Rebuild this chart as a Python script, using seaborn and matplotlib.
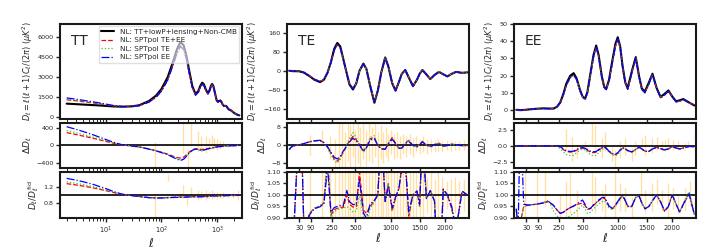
import numpy as np
import seaborn as sns
import matplotlib
matplotlib.use("Agg")
import matplotlib.pyplot as plt
from matplotlib.ticker import FixedLocator, NullLocator, FuncFormatter

# ---------------- TT ----------------
ell_tt = [2, 3, 4, 6, 8, 10, 14, 20, 30, 40, 60, 80, 100, 130, 160, 190, 220, 250, 280, 320,
          360, 410, 460, 500, 540, 580, 630, 680, 730, 780, 815, 860, 920, 980, 1030, 1080,
          1140, 1200, 1260, 1330, 1420, 1480, 1550, 1620, 1700, 1790, 1900, 2000, 2150, 2300, 2500]
dl_tt_fid = [1000, 960, 930, 890, 860, 830, 790, 770, 800, 880, 1200, 1600, 2100, 3000, 4100,
             5100, 5650, 5400, 4650, 3350, 2300, 1720, 1950, 2350, 2580, 2450, 2050, 1800, 2000,
             2380, 2480, 2300, 1750, 1260, 1150, 1190, 1240, 1120, 920, 820, 840, 790, 660, 570,
             530, 480, 390, 310, 230, 170, 115]
dd_tt_teee = [296, 250, 215, 165, 125, 95, 50, 10, -15, -35, -80, -120, -155, -200, -245, -280,
              -290, -270, -220, -150, -100, -75, -80, -90, -95, -85, -75, -70, -65, -60, -55, -50,
              -40, -35, -30, -28, -25, -22, -20, -17, -14, -12, -10, -8, -7, -6, -5, -4, -3, -2, -1]
dd_tt_te = [342, 290, 250, 190, 145, 110, 58, 12, -15, -35, -85, -125, -160, -210, -260, -305,
            -330, -310, -250, -170, -115, -85, -100, -120, -125, -110, -95, -85, -75, -70, -62, -55,
            -45, -38, -32, -30, -27, -23, -20, -17, -14, -12, -10, -8, -7, -6, -5, -4, -3, -2, -1]
dd_tt_ee = [433, 370, 320, 245, 185, 140, 70, 15, -12, -35, -85, -125, -165, -215, -270, -320,
            -345, -320, -255, -170, -110, -85, -95, -115, -118, -105, -90, -80, -70, -65, -58, -50,
            -42, -36, -30, -28, -25, -22, -20, -17, -14, -12, -10, -8, -7, -6, -5, -4, -3, -2, -1]
bar_tt_ell = [78, 240, 300, 343, 450, 520, 640, 710, 800, 870, 975, 1120, 1280, 1580, 1940]
bar_tt_lo = [-600, -166, -600, -14, -127, -127, -165, -100, -100, -60, -110, -90, -45, -45, -30]
bar_tt_hi = [80, 700, -90, 700, 327, 215, 215, 175, 250, 175, 140, 100, 100, 65, 40]
rbar_tt_ell = [78, 132, 240, 289, 343, 450, 520, 640, 710, 800, 870, 975, 1120, 1280, 1580, 1940, 2350]
rbar_tt_lo = [0.3, 1.37, 0.91, 0.74, 0.95, 0.87, 0.9, 0.88, 0.92, 0.9, 0.93, 0.9, 0.93, 0.92, 0.93, 0.92, 0.88]
rbar_tt_hi = [1.0, 1.55, 1.25, 0.95, 1.21, 1.12, 1.1, 1.12, 1.08, 1.12, 1.07, 1.08, 1.06, 1.08, 1.06, 1.08, 1.14]

# ---------------- TE ----------------
ell_te = [2, 5, 10, 20, 30, 50, 80, 110, 150, 180, 210, 240, 270, 300, 330, 360, 400, 430, 470,
          510, 550, 600, 640, 690, 750, 800, 850, 910, 960, 1020, 1075, 1130, 1180, 1240, 1300,
          1377, 1450, 1500, 1553, 1630, 1706, 1790, 1880, 1970, 2058, 2150, 2246, 2380, 2500]
dl_te_fid = [3, 2, 1, 1, 0.5, -5, -20, -35, -45, -35, -5, 40, 95, 120, 105, 55, -10, -55, -76,
             -50, 3, 33, 10, -60, -132, -80, -5, 59, 20, -50, -81, -45, -10, 6, -25, -62, -35,
             -10, 6, -13, -32, -15, -2, -12, -21, -10, -2, -6, -4]
dd_te_teee = [-1.9, -0.8, -0.2, 0.1, 0.3, 0.8, 1.6, 2.0, 2.2, 1.2, -0.8, -3.5, -6.0, -7.0, -5.5,
              -3.0, 0.0, 2.2, 4.0, 2.5, 0.3, -2.2, -0.8, 3.0, 3.5, 0.0, -1.5, -1.6, 1.0, 3.5, 1.0,
              -1.2, -1.2, 1.0, 2.3, 0.0, -0.6, 0.5, 1.8, 0.2, -0.6, 0.4, 1.0, -0.3, 0.0, 0.6, 0.3,
              -0.1, 0.0]
dd_te_te = [-2.0, -0.9, -0.2, 0.1, 0.3, 0.8, 1.6, 2.0, 2.1, 1.0, -1.2, -4.2, -6.8, -7.8, -6.2,
            -3.2, 0.5, 3.2, 5.7, 3.5, 0.0, -3.1, -1.2, 3.5, 4.3, 0.2, -1.5, -1.5, 1.0, 3.2, 0.9,
            -1.2, -1.2, 0.9, 2.1, 0.0, -0.6, 0.5, 1.6, 0.2, -0.6, 0.4, 0.9, -0.3, 0.0, 0.5, 0.3,
            -0.1, 0.0]
dd_te_ee = [-1.8, -0.8, -0.2, 0.1, 0.3, 0.8, 1.7, 2.1, 2.3, 1.3, -0.6, -3.0, -5.2, -6.0, -4.8,
            -2.6, -0.2, 1.6, 3.2, 2.0, 0.2, -2.6, -1.0, 2.4, 3.0, 0.0, -1.5, -1.7, 0.8, 2.8, 0.8,
            -1.2, -1.2, 0.8, 1.8, 0.0, -0.6, 0.4, 1.5, 0.2, -0.6, 0.4, 0.8, -0.3, 0.0, 0.5, 0.3,
            -0.1, 0.0]
bar_te_ell = [85, 165, 230, 280, 320, 350, 380, 410, 440, 470, 500, 530, 560, 600, 640, 680, 720,
              760, 800, 840, 880, 920, 960, 1000, 1050, 1100, 1150, 1200, 1260, 1320, 1380, 1440,
              1500, 1570, 1640, 1710, 1790, 1870, 1950, 2040, 2130, 2220, 2320, 2420]
bar_te_lo = [-4.2, 1.0, -6, -12, -12, -9, -12, -7, -12, -5, -11, -8, -10, -6, -9, -7, -8, -5, -9,
             -6, -8, -5, -7, -4, -6, -5, -6, -4, -5, -4, -5, -3, -4, -3, -4, -3, -3, -2.5, -3, -2,
             -2.5, -2, -2, -2]
bar_te_hi = [4.6, 6.8, 4, 3, 12, 12, 6, 12, 9, 12, 7, 12, 8, 11, 7, 10, 8, 10, 6, 9, 6, 8, 5, 7,
             5, 6, 4, 5, 4, 5, 3.5, 4, 3, 4, 3, 3, 2.5, 3, 2, 2.5, 2, 2, 2, 2.5]
rbar_te_lo = [0.8, 0.85, 0.8, 0.82, 0.8, 0.85, 0.8, 0.88, 0.8, 0.85, 0.8, 0.87, 0.8, 0.84, 0.8,
              0.86, 0.8, 0.85, 0.82, 0.8, 0.86, 0.8, 0.88, 0.82, 0.86, 0.84, 0.88, 0.85, 0.9, 0.86,
              0.9, 0.88, 0.9, 0.9, 0.92, 0.9, 0.93, 0.9, 0.92, 0.94, 0.93, 0.92, 0.94, 0.93]
rbar_te_hi = [1.2, 1.15, 1.2, 1.18, 1.2, 1.15, 1.2, 1.12, 1.2, 1.15, 1.2, 1.13, 1.2, 1.16, 1.2,
              1.14, 1.2, 1.15, 1.18, 1.2, 1.14, 1.2, 1.12, 1.18, 1.14, 1.16, 1.12, 1.15, 1.1, 1.14,
              1.1, 1.12, 1.1, 1.1, 1.08, 1.1, 1.07, 1.1, 1.08, 1.06, 1.07, 1.08, 1.06, 1.07]

# ---------------- EE ----------------
ell_ee = [2, 5, 10, 20, 40, 80, 120, 160, 200, 230, 260, 290, 320, 360, 397, 430, 468, 500, 530,
          560, 600, 640, 676, 710, 755, 790, 818, 860, 913, 960, 996, 1035, 1075, 1120, 1160,
          1230, 1300, 1360, 1410, 1467, 1540, 1610, 1690, 1770, 1850, 1930, 2010, 2093, 2170,
          2250, 2380, 2500]
dl_ee_fid = [0.3, 0.2, 0.1, 0.2, 0.5, 0.9, 1.1, 1.0, 1.0, 2.0, 4.5, 9.5, 15.5, 20.0, 21.5, 18.5,
             12.0, 8.0, 6.7, 10.5, 21.5, 32.0, 37.5, 32.0, 19.6, 13.5, 12.3, 17.5, 29.2, 38.5,
             42.3, 37.0, 25.4, 16.0, 12.9, 22.5, 30.8, 19.6, 12.5, 11.0, 16.0, 21.2, 13.0, 7.7,
             9.5, 11.5, 8.0, 5.2, 5.8, 6.5, 4.5, 2.8]
dd_ee_teee = [0, 0, 0, 0, 0, 0, 0, 0, 0, -0.05, -0.2, -0.6, -0.9, -1.0, -0.95, -0.7, -0.4, -0.35,
              -0.45, -0.7, -1.0, -1.1, -1.0, -0.7, -0.35, -0.25, -0.4, -0.9, -1.3, -1.4, -1.2,
              -0.7, -0.35, -0.5, -0.8, -1.0, -0.6, -0.25, -0.5, -0.85, -0.9, -0.5, -0.25, -0.45,
              -0.65, -0.5, -0.15, -0.35, -0.5, -0.35, -0.1, -0.15]
dd_ee_te = [0, 0, 0, 0, 0, 0, 0, 0, 0, -0.1, -0.4, -1.0, -1.4, -1.55, -1.5, -1.1, -0.7, -0.55,
            -0.65, -1.0, -1.4, -1.6, -1.5, -1.1, -0.6, -0.4, -0.5, -1.0, -1.45, -1.6, -1.4, -0.85,
            -0.45, -0.55, -0.85, -1.05, -0.65, -0.25, -0.5, -0.85, -0.9, -0.5, -0.25, -0.45,
            -0.65, -0.5, -0.15, -0.35, -0.5, -0.35, -0.1, -0.15]
dd_ee_ee = [0, 0, 0, 0, 0, 0, 0, 0, 0, -0.03, -0.15, -0.5, -0.8, -0.9, -0.85, -0.6, -0.35, -0.3,
            -0.4, -0.6, -0.85, -0.95, -0.9, -0.6, -0.3, -0.2, -0.35, -0.85, -1.25, -1.3, -1.1,
            -0.65, -0.3, -0.45, -0.75, -0.95, -0.55, -0.2, -0.5, -0.85, -0.9, -0.5, -0.25, -0.45,
            -0.65, -0.5, -0.15, -0.35, -0.5, -0.35, -0.1, -0.15]
ratio_ee_teee = [0.94, 0.85, 0.88, 0.95, 0.956, 0.96, 0.965, 0.972, 0.955, 0.935, 0.92, 0.925,
                 0.935, 0.945, 0.952, 0.958, 0.962, 0.965, 0.955, 0.938, 0.94, 0.955, 0.965, 0.975,
                 0.985, 0.987, 0.975, 0.95, 0.94, 0.955, 0.97, 0.985, 0.997, 0.975, 0.95, 0.95,
                 0.99, 0.995, 0.965, 0.94, 0.95, 0.975, 1.0, 0.97, 0.93, 0.95, 1.0, 0.96, 0.925,
                 0.96, 1.005, 0.915]
ratio_ee_te = [0.93, 0.85, 0.87, 0.95, 0.956, 0.962, 0.968, 0.978, 0.93, 0.91, 0.895, 0.895, 0.9,
               0.91, 0.92, 0.93, 0.945, 0.955, 0.94, 0.92, 0.925, 0.94, 0.95, 0.96, 0.97, 0.975,
               0.965, 0.945, 0.935, 0.95, 0.965, 0.98, 0.993, 0.972, 0.948, 0.948, 0.99, 0.995,
               0.965, 0.94, 0.95, 0.975, 1.003, 0.97, 0.93, 0.952, 1.005, 0.96, 0.925, 0.965,
               1.015, 0.92]
ratio_ee_ee = [0.94, 0.85, 1.35, 0.96, 0.956, 0.96, 0.965, 0.972, 0.955, 0.935, 0.92, 0.925,
               0.935, 0.945, 0.952, 0.96, 0.97, 0.978, 0.96, 0.94, 0.942, 0.957, 0.967, 0.978,
               0.988, 0.99, 0.977, 0.952, 0.942, 0.957, 0.972, 0.987, 0.998, 0.976, 0.951, 0.951,
               0.99, 0.995, 0.965, 0.94, 0.95, 0.975, 1.0, 0.97, 0.93, 0.95, 1.0, 0.96, 0.925,
               0.96, 1.005, 0.915]
bar_ee_ell = [321, 374, 430, 528, 622, 659, 751, 800, 899, 951, 1030, 1113, 1232, 1285, 1405,
              1467, 1594, 1692, 1790, 1858, 1926, 2033, 2139, 2285, 2360]
bar_ee_lo = [-0.6, -2.4, -1.9, -0.62, -0.1, -0.62, -1.9, -0.87, -2.4, -3.5, -1.9, -1.4, -2.4,
             -1.4, -0.87, -1.4, -1.1, -0.62, -0.87, -0.87, -0.62, -0.62, -0.62, -0.62, -0.36]
bar_ee_hi = [2.7, 1.45, 0.16, 0.68, 3.6, 3.3, 1.19, 2.2, 0.16, -0.6, 0.68, 1.2, -0.36, 0.68, 1.2,
             1.7, 1.2, 1.45, 0.68, 0.93, 1.2, 0.93, 0.68, 0.42, 0.68]
rbar_ee_ell = [25, 80, 133, 257, 321, 355, 430, 622, 659, 751, 800, 951, 1030, 1113, 1232, 1390,
               1467, 1594, 1692, 1790, 1926, 2033, 2139, 2285, 2400]
rbar_ee_lo = [0.85, 0.9, 0.95, 0.88, 0.9, 0.92, 0.9, 0.95, 0.92, 0.93, 0.9, 0.9, 0.93, 0.93, 0.9,
              0.95, 0.92, 0.93, 0.96, 0.93, 0.9, 0.94, 0.92, 0.93, 0.95]
rbar_ee_hi = [1.2, 1.1, 1.1, 1.0, 1.06, 1.1, 1.02, 1.1, 1.08, 1.02, 1.05, 1.1, 1.05, 1.03, 0.99,
              1.1, 1.02, 1.05, 1.07, 1.02, 1.05, 1.03, 1.0, 1.03, 1.06]

labels = ["NL: TT+lowP+lensing+Non-CMB", "NL: SPTpol TE+EE", "NL: SPTpol TE", "NL: SPTpol EE"]
colors = ["black", "red", "limegreen", "blue"]
styles = ["-", "--", ":", "-."]
widths = [1.5, 0.9, 0.9, 0.9]

sns.set_style("ticks")
plt.rcParams.update({
    "font.family": ["DejaVu Sans"],
    "mathtext.fontset": "dejavusans",
    "axes.linewidth": 1.5,
    "axes.edgecolor": "0.1",
    "xtick.major.size": 3, "ytick.major.size": 3,
    "xtick.minor.size": 1.8, "ytick.minor.size": 1.8,
    "xtick.major.width": 1.0, "ytick.major.width": 1.0,
    "xtick.minor.width": 0.7,
    "xtick.labelsize": 4.8, "ytick.labelsize": 4.6,
    "xtick.major.pad": 2, "ytick.major.pad": 1.5,
})


def fwd(x):
    x = np.asarray(x, dtype=float)
    return np.sign(x) * np.abs(x) ** 0.6


def inv(u):
    u = np.asarray(u, dtype=float)
    return np.sign(u) * np.abs(u) ** (1 / 0.6)


fig = plt.figure(figsize=(7.07, 2.52), dpi=100)
gs = fig.add_gridspec(3, 3, left=0.0849, right=0.984, top=0.905, bottom=0.135,
                      height_ratios=[95, 45, 46], hspace=0.065, wspace=0.251)


def draw_column(col, tag, ell, fid, deltas, ratios, mbars, rbars, lims, ticks):
    ax_top = fig.add_subplot(gs[0, col])
    ax_mid = fig.add_subplot(gs[1, col])
    ax_bot = fig.add_subplot(gs[2, col])

    # top: spectra
    tops = [fid] + [[f + d for f, d in zip(fid, dd)] for dd in deltas]
    for i, y in enumerate(tops):
        kw = {"label": labels[i]} if col == 0 else {}
        sns.lineplot(x=ell, y=y, ax=ax_top, color=colors[i], linestyle=styles[i],
                     lw=widths[i], errorbar=None, **kw)
    ax_top.text(0.06, 0.82, tag, transform=ax_top.transAxes, fontsize=10, va="center")

    # middle: differences
    ax_mid.vlines(mbars[0], mbars[1], mbars[2], color="orange", alpha=0.35, lw=1.0)
    ax_mid.axhline(0, color="black", lw=1.2)
    for i, dd in enumerate(deltas):
        sns.lineplot(x=ell, y=dd, ax=ax_mid, color=colors[i + 1], linestyle=styles[i + 1],
                     lw=widths[i + 1], errorbar=None)

    # bottom: ratios
    ax_bot.vlines(rbars[0], rbars[1], rbars[2], color="orange", alpha=0.35, lw=1.0)
    ax_bot.axhline(1, color="black", lw=1.2)
    for i, rr in enumerate(ratios):
        sns.lineplot(x=ell, y=rr, ax=ax_bot, color=colors[i + 1], linestyle=styles[i + 1],
                     lw=widths[i + 1], errorbar=None)

    for ax, lim, tk in zip([ax_top, ax_mid, ax_bot], lims, ticks):
        if col == 0:
            ax.set_xscale("log")
            ax.set_xlim(1.52, 2740)
        else:
            ax.set_xscale("function", functions=(fwd, inv))
            ax.set_xlim(0.1, 2530)
            ax.xaxis.set_major_locator(FixedLocator([30, 90, 250, 500, 1000, 1500, 2000]))
            ax.xaxis.set_minor_locator(NullLocator())
            ax.xaxis.set_major_formatter(FuncFormatter(lambda v, p: f"{v:g}"))
        ax.set_ylim(*lim)
        ax.set_yticks(tk)
        ax.set_xlabel("")
        for s in ax.spines.values():
            s.set_visible(True)
    ax_top.tick_params(labelbottom=False)
    ax_mid.tick_params(labelbottom=False)

    ax_top.set_ylabel(r"$D_\ell=\ell(\ell+1)C_\ell/(2\pi)\ (\mu K^2)$", fontsize=5.9, labelpad=2)
    ax_mid.set_ylabel(r"$\Delta D_\ell$", fontsize=6.5, labelpad=2)
    ax_bot.set_ylabel(r"$D_\ell/D_\ell^{\rm fid}$", fontsize=6.5, labelpad=2)
    ax_bot.set_xlabel(r"$\ell$", fontsize=8.5, labelpad=0.5)

    if col == 0:
        ax_top.legend(loc="upper right", fontsize=5.2, handlelength=1.8, labelspacing=0.35,
                      borderpad=0.35, borderaxespad=0.3, framealpha=0.6)
    elif ax_top.get_legend() is not None:
        ax_top.get_legend().remove()


ratio_tt = [[(f + d) / f for f, d in zip(dl_tt_fid, dd)] for dd in (dd_tt_teee, dd_tt_te, dd_tt_ee)]
ratio_te = [[(f + d) / f for f, d in zip(dl_te_fid, dd)] for dd in (dd_te_teee, dd_te_te, dd_te_ee)]

draw_column(0, "TT", ell_tt, dl_tt_fid, [dd_tt_teee, dd_tt_te, dd_tt_ee], ratio_tt,
            (bar_tt_ell, bar_tt_lo, bar_tt_hi), (rbar_tt_ell, rbar_tt_lo, rbar_tt_hi),
            [(-150, 7000), (-520, 520), (0.4, 1.6)],
            [[0, 1500, 3000, 4500, 6000], [-400, 0, 400], [0.8, 1.2]])
draw_column(1, "TE", ell_te, dl_te_fid, [dd_te_teee, dd_te_te, dd_te_ee], ratio_te,
            (bar_te_ell, bar_te_lo, bar_te_hi), (bar_te_ell, rbar_te_lo, rbar_te_hi),
            [(-200, 200), (-10, 10), (0.9, 1.1)],
            [[-160, -80, 0, 80, 160], [-8, 0, 8], [0.9, 0.95, 1.0, 1.05, 1.1]])
draw_column(2, "EE", ell_ee, dl_ee_fid, [dd_ee_teee, dd_ee_te, dd_ee_ee],
            [ratio_ee_teee, ratio_ee_te, ratio_ee_ee],
            (bar_ee_ell, bar_ee_lo, bar_ee_hi), (rbar_ee_ell, rbar_ee_lo, rbar_ee_hi),
            [(-5, 50), (-3.5, 3.6), (0.9, 1.1)],
            [[0, 10, 20, 30, 40, 50], [-2.5, 0.0, 2.5], [0.9, 0.95, 1.0, 1.05, 1.1]])

fig.savefig("out.png", dpi=100)
